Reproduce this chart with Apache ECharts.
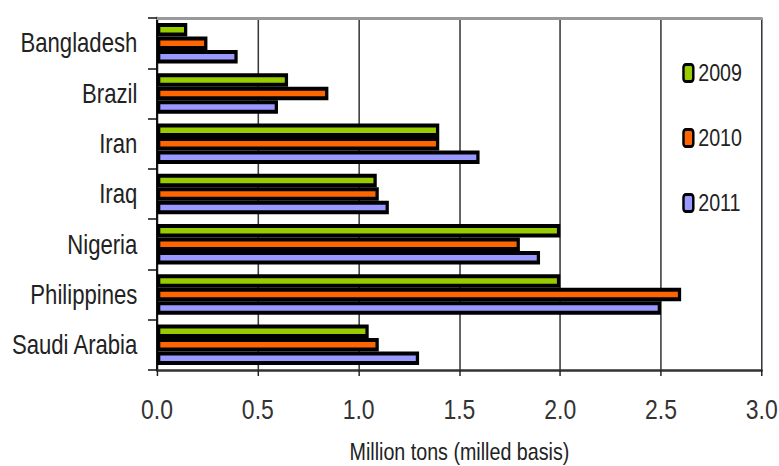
<!DOCTYPE html>
<html>
<head>
<meta charset="utf-8">
<script src="https://cdn.jsdelivr.net/npm/echarts@6/dist/echarts.min.js"></script>
<style>
html,body{margin:0;padding:0;background:#fff;overflow:hidden}
#wrap{width:779px;height:466px;overflow:hidden;position:relative}
#c{width:950px;height:466px;transform:scaleX(0.82);transform-origin:0 0;position:absolute;left:0;top:0}
</style>
</head>
<body>
<div id="wrap"><div id="c"></div></div>
<script>
var categories = ['Bangladesh', 'Brazil', 'Iran', 'Iraq', 'Nigeria', 'Philippines', 'Saudi Arabia'];
var seriesNames = ['2009', '2010', '2011'];
var values2009 = [0.15, 0.65, 1.40, 1.09, 2.00, 2.00, 1.05];
var values2010 = [0.25, 0.85, 1.40, 1.10, 1.80, 2.60, 1.10];
var values2011 = [0.40, 0.60, 1.60, 1.15, 1.90, 2.50, 1.30];
var xTicks = ['0.0', '0.5', '1.0', '1.5', '2.0', '2.5', '3.0'];
var colors = ['#99cc00', '#ff6600', '#9999ff'];

// Chart drawn in a wider space and condensed horizontally (Arial Narrow look)
var FONT = '"Liberation Sans", Arial, sans-serif';
var chart = echarts.init(document.getElementById('c'), null, { renderer: 'svg' });
var data = [values2009, values2010, values2011];
var series = seriesNames.map(function (n, i) {
  return {
    name: n, type: 'bar', data: data[i],
    barWidth: 13.5, barGap: '0%',
    itemStyle: { color: colors[i], borderColor: '#000', borderWidth: 4 }
  };
});
chart.setOption({
  animation: false,
  color: colors,
  grid: { left: 191.5, right: 21, top: 18, bottom: 96, containLabel: false, outerBoundsMode: 'none' },
  legend: {
    orient: 'vertical', left: 827, top: 56, itemGap: 41,
    itemWidth: 12, itemHeight: 17,
    textStyle: { fontFamily: FONT, fontSize: 24, color: '#222', padding: [0, 0, 0, 1] },
    itemStyle: { borderColor: '#000', borderWidth: 3 },
    data: seriesNames
  },
  xAxis: [{
    type: 'value', min: 0, max: 3, interval: 0.5,
    name: 'Million tons (milled basis)', nameLocation: 'middle', nameGap: 70,
    nameTextStyle: { fontFamily: FONT, fontSize: 24, color: '#222' },
    axisLine: { show: true, lineStyle: { color: '#333', width: 2.5 } },
    axisTick: { show: true, length: 6, lineStyle: { color: '#222', width: 1.8 } },
    axisLabel: { fontFamily: FONT, fontSize: 28, color: '#333', margin: 25,
      formatter: function (v) { return xTicks[Math.round(v / 0.5)]; } },
    splitLine: { show: true, lineStyle: { color: '#3a3a3a', width: 1.9 } }
  }, {
    type: 'value', position: 'top', min: 0, max: 3, interval: 0.5,
    axisLine: { show: true, lineStyle: { color: '#999', width: 3 } },
    axisTick: { show: false }, axisLabel: { show: false }, splitLine: { show: false }
  }],
  yAxis: {
    type: 'category', data: categories, inverse: true,
    axisLine: { show: true, lineStyle: { color: '#111', width: 2.5 } },
    axisTick: { show: true, length: 11, lineStyle: { color: '#111', width: 1.5 } },
    axisLabel: { fontFamily: FONT, fontSize: 27, color: '#222', margin: 24 }
  },
  series: series
});
</script>
</body>
</html>
